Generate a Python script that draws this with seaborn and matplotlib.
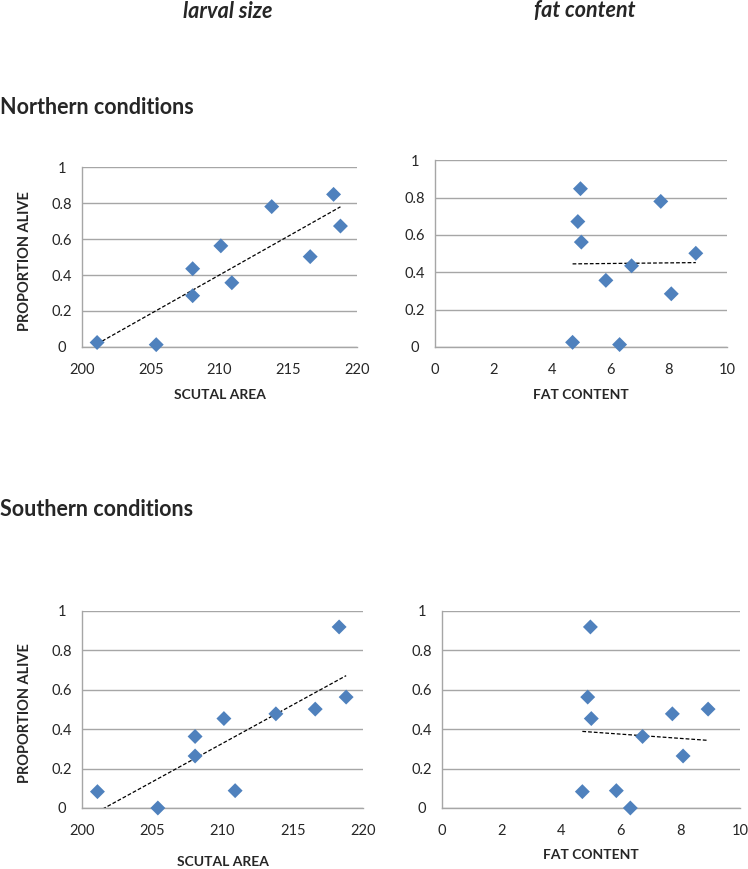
import seaborn as sns
import matplotlib.pyplot as plt
from matplotlib.ticker import FormatStrFormatter

# one entry per larval group
scutal_area = [201.1, 205.4, 208.05, 208.05, 210.1, 210.9, 213.8, 216.6, 218.3, 218.8]
fat_content = [4.71, 6.32, 6.73, 8.09, 5.01, 5.85, 7.73, 8.93, 4.98, 4.89]
alive_north = [0.025, 0.013, 0.435, 0.285, 0.562, 0.357, 0.780, 0.502, 0.848, 0.672]
alive_south = [0.083, 0.0, 0.363, 0.264, 0.454, 0.088, 0.478, 0.502, 0.919, 0.563]

BLUE = '#4F81BD'
GRID = '#A6A6A6'
FONT = ['Lato', 'DejaVu Sans']


def panel(fig, rect, x, y, xlim, xticks, xlabel, ylabel=None, xlabelpad=6):
    ax = fig.add_axes(rect)
    sns.regplot(x=x, y=y, ax=ax, ci=None, marker='D', color=BLUE,
                scatter_kws={'s': 58, 'edgecolor': 'none', 'alpha': 1, 'clip_on': False, 'zorder': 3},
                line_kws={'color': 'black', 'lw': 0.9, 'ls': (0, (3, 1.6)), 'zorder': 2})
    ax.set_xlim(*xlim)
    ax.set_ylim(0, 1)
    ax.set_xticks(xticks)
    ax.set_yticks([0, 0.2, 0.4, 0.6, 0.8, 1])
    ax.yaxis.set_major_formatter(FormatStrFormatter('%g'))
    ax.grid(axis='y', color=GRID, lw=1)
    ax.grid(axis='x', visible=False)
    ax.set_axisbelow(True)
    for s in ['top', 'right']:
        ax.spines[s].set_visible(False)
    for s in ['left', 'bottom']:
        ax.spines[s].set_color(GRID)
        ax.spines[s].set_linewidth(1)
    ax.tick_params(axis='x', length=0, pad=11.5, labelsize=10.5)
    # excel centres the value labels on the vertical axis
    ax.tick_params(axis='y', length=0, pad=14.5, labelsize=10.5)
    for lab in ax.get_yticklabels():
        lab.set_ha('center')
    ax.set_xlabel(xlabel, fontsize=10, fontweight='bold', labelpad=xlabelpad)
    if ylabel:
        ax.set_ylabel(ylabel, fontsize=10.5, fontweight='bold')
        w = rect[2] * 748
        ax.yaxis.set_label_coords(-50 / w, 0.48)
    else:
        ax.set_ylabel('')
    return ax


def main():
    sns.set_style('white')
    plt.rcParams['font.family'] = FONT

    fig = plt.figure(figsize=(7.48, 8.69), dpi=100)

    panel(fig, [0.1096, 0.6007, 0.3676, 0.2071], scutal_area, alive_north,
          (200, 220), [200, 205, 210, 215, 220], 'SCUTAL AREA', 'PROPORTION ALIVE', 9)
    panel(fig, [0.5816, 0.6007, 0.3904, 0.2148], fat_content, alive_north,
          (0, 10), [0, 2, 4, 6, 8, 10], 'FAT CONTENT', None, 9)
    panel(fig, [0.1096, 0.0702, 0.3757, 0.2267], scutal_area, alive_south,
          (200, 220), [200, 205, 210, 215, 220], 'SCUTAL AREA', 'PROPORTION ALIVE', 13)
    panel(fig, [0.5909, 0.0702, 0.3984, 0.2267], fat_content, alive_south,
          (0, 10), [0, 2, 4, 6, 8, 10], 'FAT CONTENT', None, 8)

    fig.text(228 / 748, 1 - 11 / 869, 'larval size', ha='center', va='center',
             fontsize=15.5, fontweight='bold', fontstyle='italic')
    fig.text(585 / 748, 1 - 11 / 869, 'fat content', ha='center', va='center',
             fontsize=15.5, fontweight='bold', fontstyle='italic')
    fig.text(0.0, 1 - 108 / 869, 'Northern conditions', ha='left', va='center',
             fontsize=15.5, fontweight='bold')
    fig.text(0.0, 1 - 510 / 869, 'Southern conditions', ha='left', va='center',
             fontsize=15.5, fontweight='bold')

    fig.savefig('out.png', dpi=100)


if __name__ == "__main__":
    main()
